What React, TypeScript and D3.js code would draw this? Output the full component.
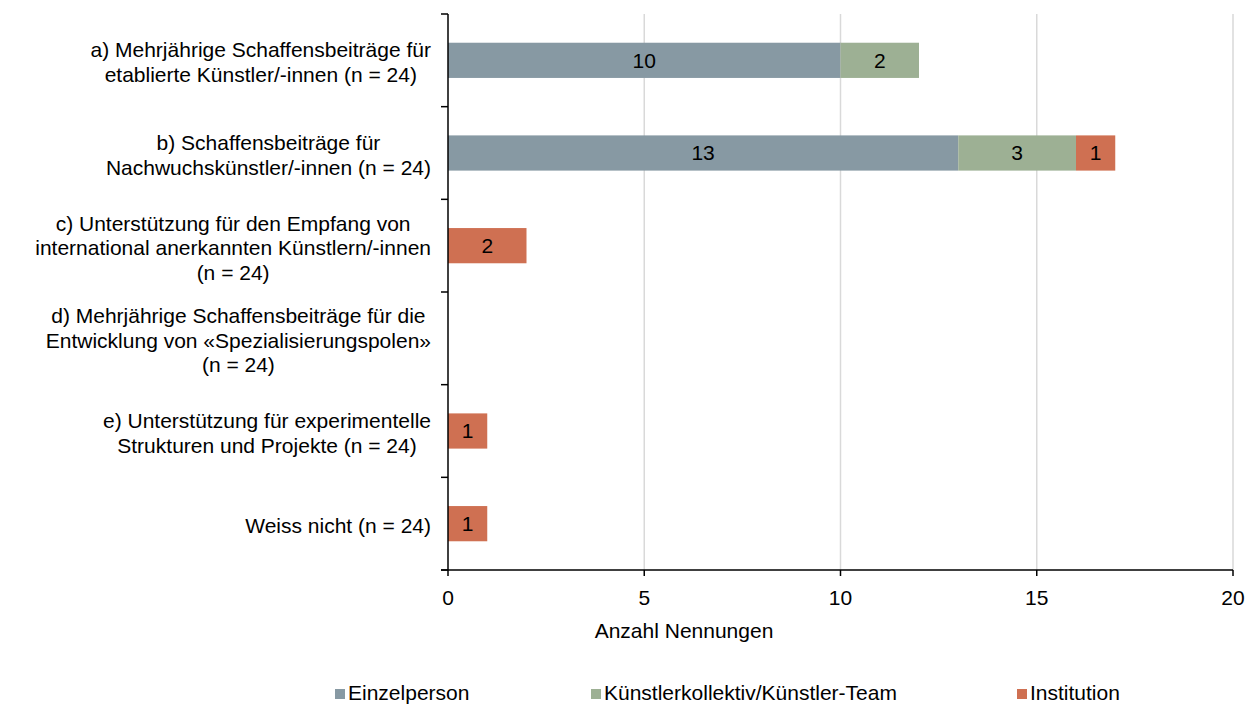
import React, { useEffect, useRef } from 'react'
import * as d3 from 'd3'

// chart data
const categories = [
  ['a) Mehrjährige Schaffensbeiträge für', 'etablierte Künstler/-innen (n = 24)'],
  ['b) Schaffensbeiträge für', 'Nachwuchskünstler/-innen (n = 24)'],
  ['c) Unterstützung für den Empfang von', 'international anerkannten Künstlern/-innen', '(n = 24)'],
  ['d) Mehrjährige Schaffensbeiträge für die', 'Entwicklung von «Spezialisierungspolen»', '(n = 24)'],
  ['e) Unterstützung für experimentelle', 'Strukturen und Projekte (n = 24)'],
  ['Weiss nicht (n = 24)']
]
const einzelperson = [10, 13, 0, 0, 0, 0]
const kollektiv = [2, 3, 0, 0, 0, 0]
const institution = [0, 1, 2, 0, 1, 1]
const seriesNames = ['Einzelperson', 'Künstlerkollektiv/Künstler-Team', 'Institution']
const colors = ['#8799a3', '#9db094', '#cf7052']
const xTicks = [0, 5, 10, 15, 20]
const xTitle = 'Anzahl Nennungen'

const FONT = '"Liberation Sans", Arial, sans-serif'
const FS = 21

export default function App () {
  const ref = useRef<SVGSVGElement>(null)

  useEffect(() => {
    const svg = d3.select(ref.current)
    svg.selectAll('*').remove()

    const left = 448
    const right = 1233
    const top = 14
    const bottom = 570

    const keys = categories.map((c, i) => String(i))
    const x = d3.scaleLinear().domain([0, 20]).range([left, right])
    const y = d3.scaleBand().domain(keys).range([top, bottom])
      .paddingInner(0.62).paddingOuter(0.31)

    // gridlines
    svg.append('g')
      .selectAll('line')
      .data(xTicks.slice(1))
      .enter()
      .append('line')
      .attr('x1', d => x(d)).attr('x2', d => x(d))
      .attr('y1', top).attr('y2', bottom)
      .attr('stroke', '#d9d9d9')
      .attr('stroke-width', 1.5)

    // stacked bars
    const rows = keys.map((k, i) => ({ key: k, e: einzelperson[i], k2: kollektiv[i], inst: institution[i] }))
    const stack = d3.stack<any>().keys(['e', 'k2', 'inst'])(rows)
    const half = (y.step() - y.bandwidth()) / 2

    stack.forEach((layer, li) => {
      const g = svg.append('g')
      layer.forEach((seg: any) => {
        const v = seg[1] - seg[0]
        if (v <= 0) return
        const yy = y(seg.data.key)!
        g.append('rect')
          .attr('x', x(seg[0]))
          .attr('y', yy)
          .attr('width', x(seg[1]) - x(seg[0]))
          .attr('height', y.bandwidth())
          .attr('fill', colors[li])
        g.append('text')
          .attr('x', (x(seg[0]) + x(seg[1])) / 2)
          .attr('y', yy + y.bandwidth() / 2)
          .attr('dy', '0.35em')
          .attr('text-anchor', 'middle')
          .attr('font-family', FONT)
          .attr('font-size', FS)
          .attr('fill', '#000')
          .text(v)
      })
    })

    // y axis
    svg.append('line')
      .attr('x1', left).attr('x2', left)
      .attr('y1', top).attr('y2', bottom)
      .attr('stroke', '#000').attr('stroke-width', 1.5)
    const bounds = keys.map(k => y(k)! - half).concat([bottom])
    svg.append('g').selectAll('line')
      .data(bounds)
      .enter()
      .append('line')
      .attr('x1', left - 7).attr('x2', left)
      .attr('y1', d => d).attr('y2', d => d)
      .attr('stroke', '#000').attr('stroke-width', 1.5)

    // x axis
    svg.append('line')
      .attr('x1', left - 7).attr('x2', right)
      .attr('y1', bottom).attr('y2', bottom)
      .attr('stroke', '#000').attr('stroke-width', 1.5)
    const xt = svg.append('g').selectAll('g')
      .data(xTicks)
      .enter()
      .append('g')
    xt.append('line')
      .attr('x1', d => x(d)).attr('x2', d => x(d))
      .attr('y1', bottom).attr('y2', bottom + 6)
      .attr('stroke', '#000').attr('stroke-width', 1.5)
    xt.append('text')
      .attr('x', d => x(d))
      .attr('y', bottom + 35)
      .attr('text-anchor', 'middle')
      .attr('font-family', FONT)
      .attr('font-size', FS)
      .text(d => d)

    svg.append('text')
      .attr('x', 684)
      .attr('y', 638)
      .attr('text-anchor', 'middle')
      .attr('font-family', FONT)
      .attr('font-size', FS)
      .text(xTitle)

    // category labels, each block centred on its widest line
    const lineH = 24.5
    categories.forEach((lines, i) => {
      const cy = y(keys[i])! + y.bandwidth() / 2 + 2
      const g = svg.append('g')
      const texts = lines.map((l, j) => g.append('text')
        .attr('y', cy + (j - (lines.length - 1) / 2) * lineH)
        .attr('dy', '0.35em')
        .attr('text-anchor', 'middle')
        .attr('font-family', FONT)
        .attr('font-size', FS)
        .text(l))
      const w = d3.max(texts, t => (t.node() as SVGTextElement).getComputedTextLength()) || 0
      texts.forEach(t => t.attr('x', 431 - w / 2))
    })

    // legend
    const legendX = [335, 591, 1017]
    seriesNames.forEach((name, i) => {
      svg.append('rect')
        .attr('x', legendX[i]).attr('y', 689)
        .attr('width', 10).attr('height', 10)
        .attr('fill', colors[i])
      svg.append('text')
        .attr('x', legendX[i] + 13)
        .attr('y', 700)
        .attr('font-family', FONT)
        .attr('font-size', FS)
        .text(name)
    })
  }, [])

  return (
    <svg ref={ref} width={1245} height={706}
      style={{ position: 'absolute', left: 0, top: 0, background: '#fff' }} />
  )
}
